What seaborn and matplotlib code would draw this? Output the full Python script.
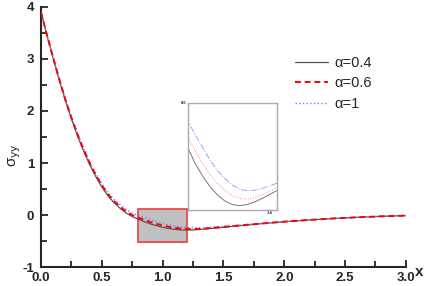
import matplotlib
matplotlib.use("Agg")
import matplotlib.pyplot as plt
import seaborn as sns
import pandas as pd
from matplotlib.patches import Rectangle
from matplotlib.ticker import MultipleLocator

x = [0, 0.05, 0.1, 0.15, 0.2, 0.25, 0.3, 0.35, 0.4, 0.45, 0.5, 0.55, 0.6, 0.65, 0.7,
     0.75, 0.8, 0.85, 0.9, 0.95, 1.0, 1.05, 1.1, 1.15, 1.2, 1.25, 1.3, 1.35, 1.4, 1.45,
     1.5, 1.6, 1.7, 1.8, 1.9, 2.0, 2.2, 2.4, 2.6, 2.8, 3.0]
s_a04 = [3.90, 3.44, 3.01, 2.59, 2.20, 1.85, 1.52, 1.23, 0.97, 0.74, 0.54, 0.37, 0.24, 0.13, 0.04,
         -0.03, -0.08, -0.126, -0.17, -0.205, -0.235, -0.258, -0.275, -0.285, -0.288, -0.285, -0.278, -0.268, -0.257, -0.246,
         -0.235, -0.212, -0.19, -0.168, -0.148, -0.128, -0.095, -0.066, -0.043, -0.024, -0.01]
s_a06 = [3.90, 3.45, 3.02, 2.61, 2.22, 1.87, 1.55, 1.26, 1.00, 0.77, 0.57, 0.40, 0.27, 0.16, 0.07,
         0.00, -0.05, -0.093, -0.135, -0.17, -0.20, -0.225, -0.245, -0.26, -0.268, -0.27, -0.266, -0.258, -0.248, -0.238,
         -0.228, -0.207, -0.186, -0.165, -0.146, -0.127, -0.094, -0.066, -0.043, -0.024, -0.01]
s_a1 = [3.90, 3.45, 3.03, 2.62, 2.24, 1.89, 1.57, 1.28, 1.02, 0.80, 0.60, 0.43, 0.30, 0.20, 0.11,
        0.04, -0.01, -0.05, -0.09, -0.125, -0.16, -0.19, -0.212, -0.23, -0.242, -0.246, -0.245, -0.24, -0.233, -0.225,
        -0.217, -0.198, -0.179, -0.16, -0.142, -0.124, -0.093, -0.065, -0.043, -0.024, -0.01]
labels = ["α=0.4", "α=0.6", "α=1"]

df = pd.DataFrame({"x": x, "a04": s_a04, "a06": s_a06, "a1": s_a1})

sns.set_style("ticks")
plt.rcParams['font.family'] = ['Liberation Sans', 'DejaVu Sans']

fig = plt.figure(figsize=(4.25, 2.86), dpi=100)
ax = fig.add_axes([0.0965, 0.066, 0.8585, 0.91])

sns.lineplot(data=df, x="x", y="a04", ax=ax, color="#555555", lw=0.9, label=labels[0], zorder=3)
sns.lineplot(data=df, x="x", y="a06", ax=ax, color="#ff0000", lw=1.4, label=labels[1], zorder=4)
ax.lines[-1].set_dashes((3, 2))
sns.lineplot(data=df, x="x", y="a1", ax=ax, color="#7777ff", lw=1.0, label=labels[2], zorder=3)
ax.lines[-1].set_linestyle(":")

ax.add_patch(Rectangle((0.8, -0.52), 0.4, 0.64, facecolor="#c0c0c0", edgecolor="#ee4848", lw=1.3, zorder=2))

ax.set_xlim(0, 3)
ax.set_ylim(-1, 4)
ax.xaxis.set_major_locator(MultipleLocator(0.5))
ax.xaxis.set_minor_locator(MultipleLocator(0.25))
ax.yaxis.set_major_locator(MultipleLocator(1))
ax.yaxis.set_minor_locator(MultipleLocator(0.5))
ax.tick_params(which="both", direction="in", width=1.3, labelsize=9.5)
ax.tick_params(which="major", length=5)
ax.tick_params(which="minor", length=4)
ax.tick_params(axis="x", pad=3.5)
ax.tick_params(axis="y", pad=5)
ax.set_xticklabels([f"{v:.1f}" for v in ax.get_xticks()], fontweight="bold")
ax.set_yticklabels([f"{v:.0f}" for v in ax.get_yticks()], fontweight="bold")
for sp in ["left", "bottom"]:
    ax.spines[sp].set_linewidth(1.5)
sns.despine(ax=ax)

ax.set_xlabel("")
ax.set_ylabel("σ$_{\\mathrm{yy}}$", fontsize=11)
ax.yaxis.set_label_coords(-0.05, 0.43)
ax.text(3.072, -1.1, "x", fontsize=11, fontweight="bold", va="center", ha="left")

leg = ax.legend(loc="upper left", bbox_to_anchor=(0.679, 0.835), frameon=False,
                fontsize=10.5, handlelength=2.3, handletextpad=0.4, labelspacing=0.45,
                borderaxespad=0)

# inset
ins = fig.add_axes([0.442, 0.266, 0.209, 0.374])
ins.plot(x, s_a04, color="#777777", lw=0.7)
ins.plot(x, s_a06, color="#ff8080", lw=0.7, ls=":")
ins.plot(x, s_a1, color="#a0a0ff", lw=0.7, ls="-.")
ins.set_xlim(0.85, 1.45)
ins.set_ylim(-0.3, 0.0)
ins.set_xticks([1.4])
ins.set_yticks([0.0])
ins.set_xticklabels(["1.4"], fontsize=3, fontweight="bold")
ins.set_yticklabels(["0.0"], fontsize=3, fontweight="bold")
ins.tick_params(length=1, width=0.5, pad=1, direction="in")
for sp in ins.spines.values():
    sp.set_color("#aaaaaa")
    sp.set_linewidth(1.0)

fig.savefig("out.png", dpi=100)
